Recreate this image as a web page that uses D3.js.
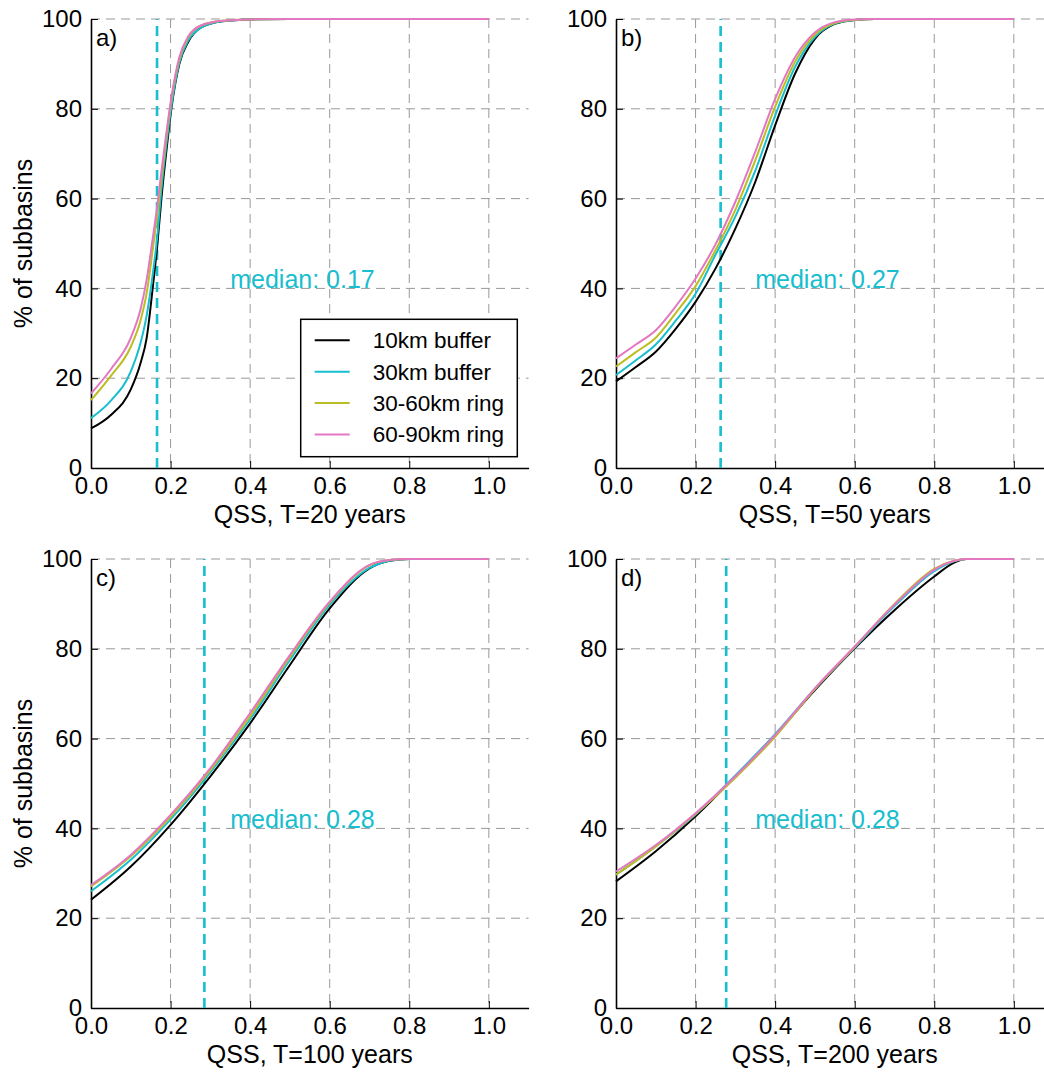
<!DOCTYPE html>
<html>
<head>
<meta charset="utf-8">
<script src="https://cdn.jsdelivr.net/npm/d3@7"></script>
<style>
  body { margin: 0; background: #fff; }
  text { font-family: "Liberation Sans", Arial, Helvetica, sans-serif; }
</style>
</head>
<body>
<div id="chart"></div>
<script>
(function cdfPanels(){

  // series names (legend order)
  var seriesNames = ['10km buffer', '30km buffer', '30-60km ring', '60-90km ring'];

  // axis ticks
  var xTicks = [0, 0.2, 0.4, 0.6, 0.8, 1.0];
  var yTicks = [0, 20, 40, 60, 80, 100];

  // a) T=20 years
  var qssA  = [0, 0.05, 0.1, 0.125, 0.14, 0.155, 0.166, 0.177, 0.19, 0.202, 0.222, 0.245, 0.275, 0.33, 0.4, 0.5, 1.0];
  var a10   = [8.8, 11.8, 17.5, 23.5, 29, 40, 49, 60, 71, 80, 90, 95, 98, 99.5, 99.9, 100, 100];
  var a30   = [11.1, 15, 21.5, 28, 34, 43, 51, 62, 72.5, 80.5, 90.3, 95.3, 98, 99.5, 99.9, 100, 100];
  var a3060 = [15.1, 20.5, 27, 33, 39, 48.5, 56, 64.5, 74, 82, 91, 96, 98.5, 99.6, 99.9, 100, 100];
  var a6090 = [16.6, 22, 29, 35.5, 42, 51, 58, 66, 75, 82.5, 91.5, 96.2, 98.5, 99.6, 99.9, 100, 100];

  // b) T=50 years
  var qssB  = [0, 0.05, 0.1, 0.15, 0.2, 0.25, 0.3, 0.35, 0.4, 0.45, 0.5, 0.55, 0.6, 0.65, 1.0];
  var b10   = [19.3, 22.5, 25.9, 31, 37, 44.4, 53.3, 63.7, 76.3, 87.8, 95.6, 98.9, 99.8, 100, 100];
  var b30   = [20.7, 24, 27.5, 32.8, 38.8, 47.5, 56, 66.2, 78.5, 89.3, 96, 99, 99.8, 100, 100];
  var b3060 = [22.6, 25.8, 29, 34.5, 40.5, 48.5, 57.5, 68.5, 80.5, 90.5, 96.5, 99.1, 99.8, 100, 100];
  var b6090 = [24.4, 27.5, 30.7, 36, 42.2, 49.8, 59.3, 70.4, 82.2, 91.5, 97, 99.3, 99.9, 100, 100];

  // c) T=100 years
  var qssC  = [0, 0.1, 0.2, 0.3, 0.4, 0.5, 0.6, 0.7, 0.75, 0.8, 1.0];
  var c10   = [24.1, 31.5, 40.8, 51.6, 63.4, 76.4, 89, 97.9, 99.6, 100, 100];
  var c30   = [26, 33, 42, 52.5, 64.3, 77.5, 89.8, 98, 99.6, 100, 100];
  var c3060 = [27.1, 33.8, 42.6, 53, 65, 78.2, 90.3, 98.6, 99.8, 100, 100];
  var c6090 = [27.4, 34.1, 43, 53.4, 65.7, 78.6, 90.5, 98.7, 99.8, 100, 100];

  // d) T=200 years
  var qssD  = [0, 0.1, 0.2, 0.3, 0.4, 0.5, 0.6, 0.7, 0.8, 0.85, 0.88, 1.0];
  var d10   = [28.2, 34.9, 42.7, 51.6, 60.8, 70.8, 80.1, 88.6, 96.1, 99.2, 100, 100];
  var d30   = [29.7, 36, 43.1, 51.8, 61, 71.1, 80.3, 89.5, 97.3, 99.5, 100, 100];
  var d3060 = [29.7, 36, 43.2, 51.3, 60.4, 71, 80.4, 90, 97.8, 99.6, 100, 100];
  var d6090 = [30.4, 36.3, 43.4, 51.6, 60.8, 71.2, 80.5, 89.8, 97.6, 99.6, 100, 100];

  // medians (30km buffer) and the text shown
  var medians = [0.166, 0.263, 0.285, 0.277];
  var medianLabels = ['0.17', '0.27', '0.28', '0.28'];
  var panelTags = ['a)', 'b)', 'c)', 'd)'];
  var xTitles = ['QSS, T=20 years', 'QSS, T=50 years', 'QSS, T=100 years', 'QSS, T=200 years'];

  var colors = ['#000000', '#17becf', '#bcbd22', '#e377c2'];

  var panels = [
    {qss: qssA, vals: [a10, a30, a3060, a6090]},
    {qss: qssB, vals: [b10, b30, b3060, b6090]},
    {qss: qssC, vals: [c10, c30, c3060, c6090]},
    {qss: qssD, vals: [d10, d30, d3060, d6090]}
  ];

  //layout
  var W = 1044, H = 1072,
      pw = 437.6, ph = 449,
      lefts = [91, 616], tops = [19, 559];

  var x = d3.scaleLinear().domain([0, 1.1]).range([0, pw]),
      y = d3.scaleLinear().domain([0, 100]).range([ph, 0]);

  var svg = d3.select('#chart')
              .append('svg')
              .attr('width', W)
              .attr('height', H);

  var line = d3.line()
               .x(function(d){ return x(d[0]); })
               .y(function(d){ return y(d[1]); })
               .curve(d3.curveMonotoneX);

  panels.forEach(function(p, i){
    var col = i % 2, row = Math.floor(i / 2);
    var g = svg.append('g')
               .attr('transform', 'translate(' + lefts[col] + ',' + tops[row] + ')');

    // grid
    g.selectAll('.vgrid')
      .data(xTicks.filter(function(t){ return t > 0; }))
      .enter().append('line')
      .attr('x1', function(d){ return x(d); }).attr('x2', function(d){ return x(d); })
      .attr('y1', 0).attr('y2', ph)
      .attr('stroke', '#999').attr('stroke-width', 1).attr('stroke-dasharray', '9,6');

    g.selectAll('.hgrid')
      .data(yTicks.filter(function(t){ return t > 0; }))
      .enter().append('line')
      .attr('x1', 0).attr('x2', pw)
      .attr('y1', function(d){ return y(d); }).attr('y2', function(d){ return y(d); })
      .attr('stroke', '#999').attr('stroke-width', 1).attr('stroke-dasharray', '9,6');

    // axes
    var xAxis = d3.axisBottom(x).tickValues(xTicks).tickFormat(d3.format('.1f'))
                  .tickSizeInner(-7).tickSizeOuter(0).tickPadding(9);
    var yAxis = d3.axisLeft(y).tickValues(yTicks)
                  .tickSizeInner(-7).tickSizeOuter(0).tickPadding(9);

    var xa = g.append('g').attr('transform', 'translate(0,' + ph + ')').call(xAxis);
    var ya = g.append('g').call(yAxis);
    [xa, ya].forEach(function(a){
      a.select('.domain').attr('stroke', '#000').attr('stroke-width', 1.6);
      a.selectAll('.tick line').attr('stroke', '#000').attr('stroke-width', 1);
      a.selectAll('.tick text').attr('fill', '#000').style('font-size', '24px')
       .style('font-family', '"Liberation Sans", Arial, sans-serif');
    });

    // median line
    g.append('line')
      .attr('x1', x(medians[i])).attr('x2', x(medians[i]))
      .attr('y1', y(0)).attr('y2', y(100))
      .attr('stroke', '#17becf').attr('stroke-width', 2.6)
      .attr('stroke-dasharray', '10,6');

    // curves
    p.vals.forEach(function(v, k){
      var pts = p.qss.map(function(q, j){ return [q, v[j]]; });
      g.append('path')
        .datum(pts)
        .attr('d', line)
        .attr('fill', 'none')
        .attr('stroke', colors[k])
        .attr('stroke-width', 2);
    });

    // median text
    g.append('text')
      .attr('x', x(0.35)).attr('y', y(40))
      .attr('fill', '#17becf')
      .style('font-size', '25px')
      .text('median: ' + medianLabels[i]);

    // panel tag
    g.append('text')
      .attr('x', 5).attr('y', 27)
      .style('font-size', '24px')
      .text(panelTags[i]);

    // x title
    g.append('text')
      .attr('x', pw / 2).attr('y', ph + 55)
      .attr('text-anchor', 'middle')
      .style('font-size', '25px')
      .text(xTitles[i]);

    // y title, left column only
    if (col === 0) {
      g.append('text')
        .attr('transform', 'translate(-59,' + (ph / 2) + ') rotate(-90)')
        .attr('text-anchor', 'middle')
        .style('font-size', '25px')
        .text('% of subbasins');
    }

    // legend, panel a only
    if (i === 0) {
      var lg = g.append('g').attr('transform', 'translate(209.7,300.3)');
      lg.append('rect')
        .attr('width', 216.6).attr('height', 137.4)
        .attr('fill', '#fff').attr('stroke', '#000').attr('stroke-width', 1.5);
      seriesNames.forEach(function(n, k){
        var ry = 21 + k * 31.4;
        lg.append('line')
          .attr('x1', 14).attr('x2', 49)
          .attr('y1', ry).attr('y2', ry)
          .attr('stroke', colors[k]).attr('stroke-width', 2);
        lg.append('text')
          .attr('x', 72).attr('y', ry)
          .attr('dy', '0.35em')
          .style('font-size', '22.5px')
          .text(n);
      });
    }
  });

})();
</script>
</body>
</html>
